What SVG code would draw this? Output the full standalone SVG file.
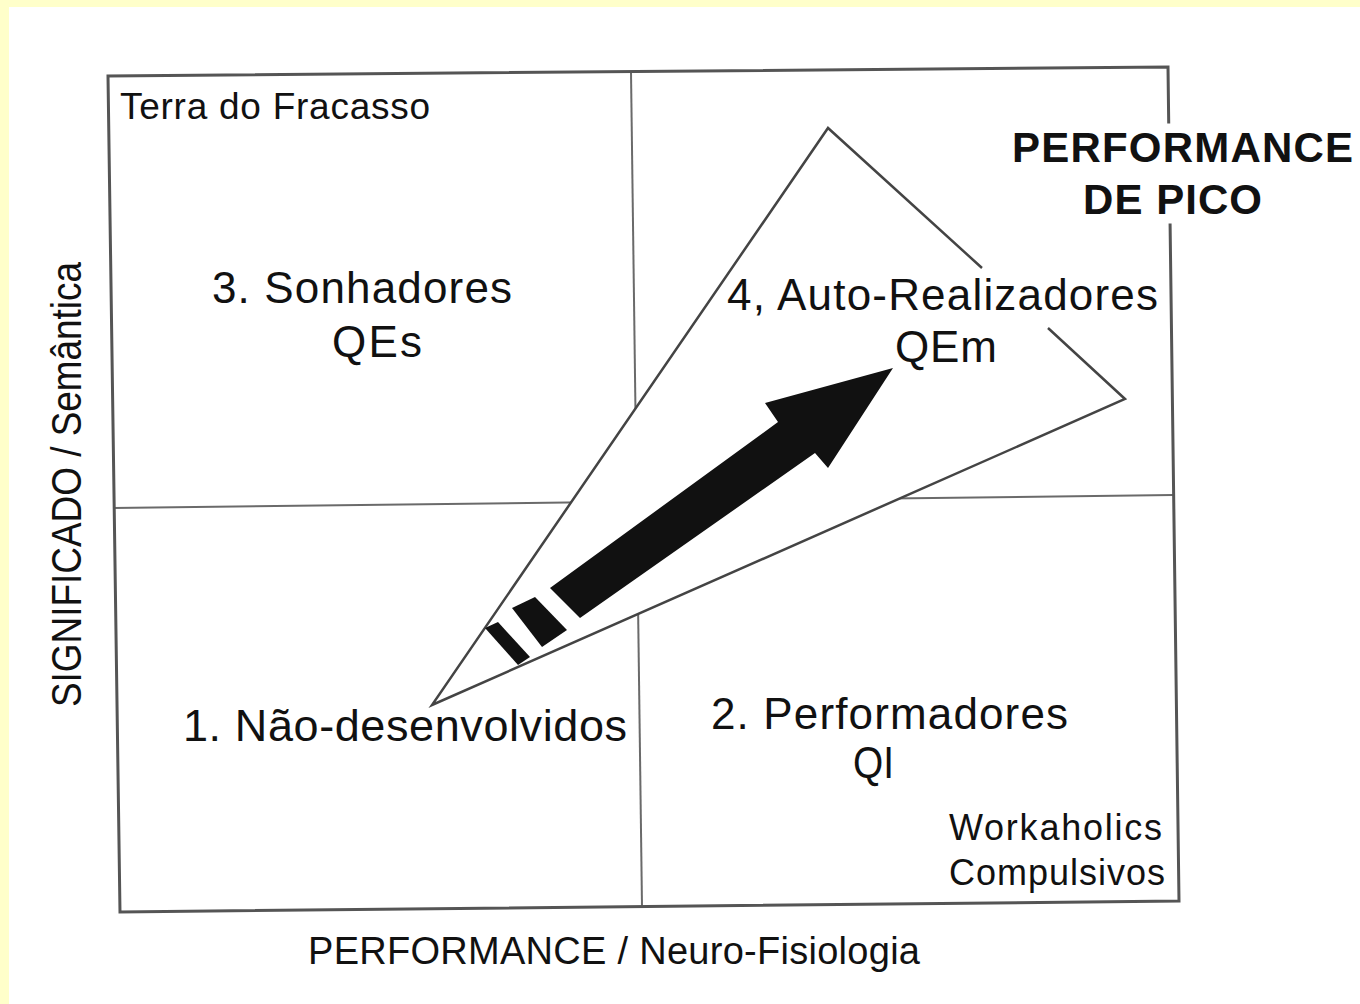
<svg xmlns="http://www.w3.org/2000/svg" width="1360" height="1004" viewBox="0 0 1360 1004">
<defs>
<style>
.t{font-family:"Liberation Sans",Arial,sans-serif;fill:#111;}
.b{font-weight:bold;}
.box{fill:none;stroke:#555;stroke-width:3;stroke-linecap:square;}
.div{fill:none;stroke:#6a6a6a;stroke-width:2;}
.tri{fill:none;stroke:#444;stroke-width:2.5;stroke-linejoin:miter;}
.blk{fill:#111;stroke:none;}
</style>
</defs>
<rect x="0" y="0" width="1360" height="1004" fill="#FFFFCA"/>
<rect x="9" y="7" width="1351" height="997" fill="#FFFFFF"/>

<g id="frame">
<line class="div" x1="113" y1="508" x2="1173" y2="495"/>
<line class="div" x1="631" y1="72" x2="642" y2="906"/>
<polyline class="box" points="1168.7,122 1168,67 108,76 120,912 1179,901 1170.1,225"/>
</g>

<g id="triangle">
<polygon points="432,705 828,128 1125,399" fill="#FFFFFF"/>
<polyline class="tri" points="982,268 828,128 432,705 1125,399 1048,328"/>
</g>

<g id="arrow">
<polygon class="blk" points="550,588 778,422 765,403 893,368 828,468 815,453 580,618"/>
<polygon class="blk" points="512,608 535,597 567,630 542,647"/>
<polygon class="blk" points="485,628 498,622 530,657 518,665"/>
</g>

<g id="terra">
<text class="t" x="120" y="119" font-size="37" textLength="310" lengthAdjust="spacing">Terra do Fracasso</text>
</g>
<g id="q3">
<text class="t" x="212" y="303" font-size="44" textLength="300" lengthAdjust="spacing">3. Sonhadores</text>
<text class="t" x="332" y="357" font-size="44" textLength="90" lengthAdjust="spacing">QEs</text>
</g>
<g id="q4">
<text class="t" x="727" y="310" font-size="44" textLength="431" lengthAdjust="spacing">4, Auto-Realizadores</text>
<text class="t" x="895" y="362" font-size="44" textLength="102" lengthAdjust="spacing">QEm</text>
</g>
<g id="peak">
<text class="t b" x="1012" y="162" font-size="42" textLength="341" lengthAdjust="spacing">PERFORMANCE</text>
<text class="t b" x="1083" y="214" font-size="42" textLength="179" lengthAdjust="spacing">DE PICO</text>
</g>
<g id="q1">
<text class="t" x="183" y="741" font-size="45" textLength="444" lengthAdjust="spacing">1. Não-desenvolvidos</text>
</g>
<g id="q2">
<text class="t" x="711" y="729" font-size="44" textLength="357" lengthAdjust="spacing">2. Performadores</text>
<text class="t" x="853" y="778" font-size="44" textLength="41" lengthAdjust="spacingAndGlyphs">QI</text>
<text class="t" x="949" y="840" font-size="36" textLength="213" lengthAdjust="spacing">Workaholics</text>
<text class="t" x="949" y="885" font-size="36" textLength="216" lengthAdjust="spacing">Compulsivos</text>
</g>
<g id="axis-x">
<text class="t" x="308" y="964" font-size="38" textLength="612" lengthAdjust="spacing">PERFORMANCE / Neuro-Fisiologia</text>
</g>
<g id="axis-y">
<text class="t" transform="translate(81,707) rotate(-90)" x="0" y="0" font-size="42" textLength="445" lengthAdjust="spacingAndGlyphs">SIGNIFICADO / Semântica</text>
</g>
</svg>
